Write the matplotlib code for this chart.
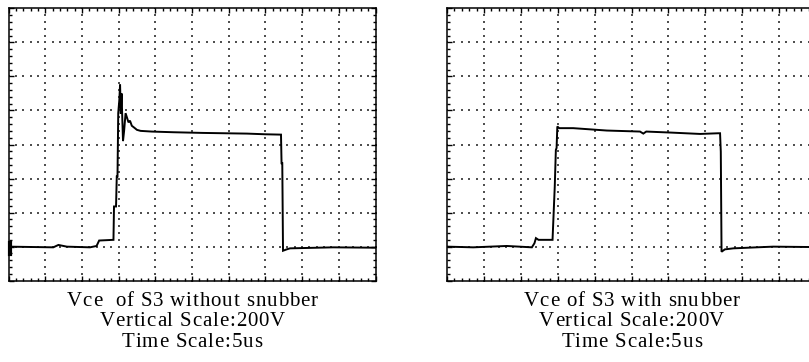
import numpy as np
import matplotlib
matplotlib.use("Agg")
import matplotlib.pyplot as plt
from matplotlib.font_manager import FontProperties
from matplotlib.ticker import MultipleLocator

# ---- data (time in divisions of 5us, voltage in divisions of 200V) ----
left_t = [0.00, 1.22, 1.36, 1.59, 2.22, 2.40, 2.47, 2.86, 2.875, 2.93, 2.95, 2.97,
          2.99, 3.02, 3.04, 3.06, 3.08, 3.12, 3.15, 3.19, 3.27, 3.31, 3.36, 3.42,
          3.50, 3.60, 3.90, 4.50, 5.30, 5.90, 6.50, 7.00, 7.425, 7.44, 7.46, 7.48,
          7.58, 7.67, 8.85, 9.90, 10.0]
left_v = [1.00, 0.98, 1.05, 1.00, 0.98, 1.02, 1.18, 1.20, 2.18, 2.18, 3.06, 3.06,
          4.92, 5.31, 5.76, 4.90, 5.50, 4.10, 4.40, 4.92, 4.65, 4.70, 4.55, 4.50,
          4.43, 4.40, 4.38, 4.36, 4.34, 4.33, 4.32, 4.30, 4.29, 3.45, 3.45, 0.88,
          0.92, 0.95, 0.98, 0.97, 0.97]

right_t = [0.00, 0.71, 1.62, 2.30, 2.37, 2.41, 2.48, 2.86, 2.89, 2.92, 2.95, 2.97,
           2.99, 3.04, 3.42, 4.33, 5.23, 5.32, 5.40, 6.07, 6.86, 7.35, 7.40, 7.42,
           7.44, 7.53, 7.76, 8.39, 8.84, 9.75, 10.0]
right_v = [1.00, 0.98, 1.02, 0.98, 1.10, 1.25, 1.20, 1.20, 1.98, 2.76, 3.84, 3.90,
           4.53, 4.48, 4.48, 4.41, 4.38, 4.32, 4.38, 4.35, 4.31, 4.33, 4.33, 3.79,
           0.85, 0.92, 0.95, 0.98, 1.00, 0.99, 0.99]

captions_left = ["Vce  of S3 without snubber", "Vertical Scale:200V", "Time Scale:5us"]
captions_right = ["Vce of S3 with snubber", "Vertical Scale:200V", "Time Scale:5us"]

W, H = 809, 362
fig = plt.figure(figsize=(W / 100, H / 100), dpi=100)
fig.patch.set_facecolor("white")

ax_w = 367 / W
ax_h = 272.4 / H
ax_b = (H - 280.7) / H
axL = fig.add_axes([8.5 / W, ax_b, ax_w, ax_h])
axR = fig.add_axes([447 / W, ax_b, 369 / W, ax_h])


def style_scope(ax):
    ax.set_xlim(0, 10)
    ax.set_ylim(0, 8)
    ax.set_facecolor("white")
    for s in ax.spines.values():
        s.set_linewidth(1.1)
        s.set_color("black")
    ax.xaxis.set_major_locator(MultipleLocator(1))
    ax.xaxis.set_minor_locator(MultipleLocator(0.2))
    ax.yaxis.set_major_locator(MultipleLocator(1))
    ax.yaxis.set_minor_locator(MultipleLocator(0.2))
    ax.tick_params(which="both", direction="in", top=True, right=True,
                   labelbottom=False, labelleft=False, color="black")
    ax.tick_params(which="major", length=3.5, width=1.0)
    ax.tick_params(which="minor", length=2.2, width=1.0)
    # dotted grid: dots at every minor division along each major line
    minor = np.arange(0, 10.01, 0.2)
    minor_y = np.arange(0, 8.01, 0.2)
    xs, ys = [], []
    for k in range(1, 10):
        xs.extend([k] * len(minor_y))
        ys.extend(minor_y)
    for k in range(1, 8):
        xs.extend(minor)
        ys.extend([k] * len(minor))
    ax.scatter(xs, ys, s=1.3, marker="s", color="#505050", linewidths=0, zorder=1)


style_scope(axL)
style_scope(axR)

axL.plot(left_t, left_v, color="black", lw=1.4, zorder=3, solid_joinstyle="miter")
axR.plot(right_t, right_v, color="black", lw=1.4, zorder=3, solid_joinstyle="miter")
# channel ground marker on the left screen
axL.plot([0.03, 0.03], [0.78, 1.11], color="black", lw=3, zorder=4, clip_on=False)

# ---- captions with letter spacing ----
renderer = fig.canvas.get_renderer()
fp = FontProperties(family="Liberation Serif", size=15)
spacing = 0.85
baselines = [306, 326, 347]


def spaced_text(cx, base_px, s):
    widths = []
    for ch in s:
        if ch == " ":
            w, _, _ = renderer.get_text_width_height_descent("a a", fp, ismath=False)
            w2, _, _ = renderer.get_text_width_height_descent("aa", fp, ismath=False)
            widths.append(w - w2)
        else:
            w, _, _ = renderer.get_text_width_height_descent(ch, fp, ismath=False)
            widths.append(w)
    total = sum(widths) + spacing * (len(s) - 1)
    x = cx - total / 2
    for ch, w in zip(s, widths):
        if ch != " ":
            fig.text(x / W, (H - base_px) / H, ch, fontproperties=fp,
                     ha="left", va="baseline", color="black")
        x += w + spacing


cxL = 8.5 + 367 / 2
cxR = 447 + 369 / 2
for line, b in zip(captions_left, baselines):
    spaced_text(cxL, b, line)
for line, b in zip(captions_right, baselines):
    spaced_text(cxR, b, line)

fig.savefig("out.png", dpi=100, facecolor="white")
